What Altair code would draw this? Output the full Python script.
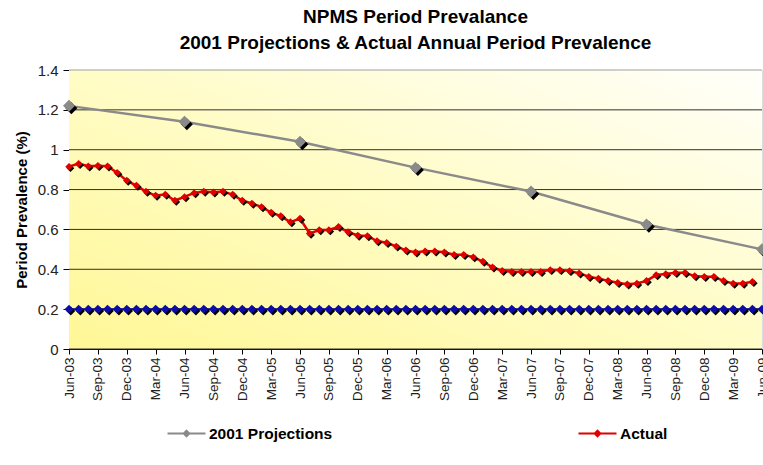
import altair as alt
import pandas as pd

# ---------------- data ----------------
tick_labels = ["Jun-03", "Sep-03", "Dec-03", "Mar-04", "Jun-04", "Sep-04", "Dec-04",
               "Mar-05", "Jun-05", "Sep-05", "Dec-05", "Mar-06", "Jun-06", "Sep-06",
               "Dec-06", "Mar-07", "Jun-07", "Sep-07", "Dec-07", "Mar-08", "Jun-08",
               "Sep-08", "Dec-08", "Mar-09", "Jun-09"]

y_ticks = [0, 0.2, 0.4, 0.6, 0.8, 1.0, 1.2, 1.4]

# month index counted from Jun-03
proj_month = [0, 12, 24, 36, 48, 60, 72]
proj_vals = [1.22, 1.14, 1.04, 0.91, 0.79, 0.625, 0.50]

actual_vals = [0.915, 0.93, 0.917, 0.92, 0.917, 0.885, 0.845, 0.82, 0.79, 0.77,
               0.775, 0.745, 0.763, 0.783, 0.79, 0.787, 0.79, 0.775, 0.745, 0.73,
               0.713, 0.685, 0.667, 0.637, 0.655, 0.58, 0.597, 0.597, 0.613, 0.587,
               0.57, 0.567, 0.542, 0.533, 0.515, 0.495, 0.485, 0.49, 0.49, 0.485,
               0.473, 0.473, 0.461, 0.439, 0.41, 0.393, 0.388, 0.388, 0.388, 0.388,
               0.397, 0.397, 0.392, 0.38, 0.363, 0.354, 0.342, 0.332, 0.325, 0.329,
               0.342, 0.371, 0.376, 0.383, 0.383, 0.366, 0.363, 0.363, 0.342, 0.329,
               0.329, 0.337]

target_vals = [0.2, 0.2, 0.2, 0.2, 0.2, 0.2, 0.2, 0.2, 0.2, 0.2, 0.2, 0.2, 0.2,
               0.2, 0.2, 0.2, 0.2, 0.2, 0.2, 0.2, 0.2, 0.2, 0.2, 0.2, 0.2, 0.2,
               0.2, 0.2, 0.2, 0.2, 0.2, 0.2, 0.2, 0.2, 0.2, 0.2, 0.2, 0.2, 0.2,
               0.2, 0.2, 0.2, 0.2, 0.2, 0.2, 0.2, 0.2, 0.2, 0.2, 0.2, 0.2, 0.2,
               0.2, 0.2, 0.2, 0.2, 0.2, 0.2, 0.2, 0.2, 0.2, 0.2, 0.2, 0.2, 0.2,
               0.2, 0.2, 0.2, 0.2, 0.2, 0.2, 0.2, 0.2]

series_names = ["2001 Projections", "Actual"]
series_colors = ["#8a8a8a", "#e00000"]
target_color = "#0c0ca8"

proj_df = pd.DataFrame({"month": proj_month, "value": proj_vals, "series": series_names[0]})
actual_df = pd.DataFrame({"month": list(range(len(actual_vals))), "value": actual_vals,
                          "series": series_names[1]})
target_df = pd.DataFrame({"month": list(range(len(target_vals))), "value": target_vals})
lines_df = pd.concat([proj_df, actual_df], ignore_index=True)
grid_df = pd.DataFrame({"value": y_ticks})

# ---------------- styling ----------------
FONT = "Liberation Sans, Arial, sans-serif"
W, H = 693, 279

label_expr = "[" + ",".join("'%s'" % t for t in tick_labels) + "][round(datum.value / 3)]"

x_enc = alt.X("month:Q",
              scale=alt.Scale(domain=[0, 72], nice=False, zero=False),
              axis=alt.Axis(values=list(range(0, 73, 3)), labelExpr=label_expr,
                            labelAngle=270, labelFontSize=13.5, labelFont=FONT,
                            labelColor="#222", labelPadding=3, labelOverlap=False,
                            labelFlush=False, labelBound=False,
                            grid=False, domainColor="black", tickColor="black",
                            tickSize=5, title=None))
y_enc = alt.Y("value:Q",
              scale=alt.Scale(domain=[0, 1.4], nice=False),
              axis=alt.Axis(values=y_ticks, format="~g",
                            labelFontSize=15, labelFont=FONT, labelColor="#222",
                            labelPadding=5, domainColor="black", tickColor="black",
                            tickSize=6, grid=False,
                            title="Period Prevalence (%)", titleFontSize=15,
                            titleFont=FONT, titleFontWeight="bold", titleColor="black",
                            titlePadding=8))

diamond = "M0,-1L1,0L0,1L-1,0Z"
shadow = "M0.4,-0.6L1.4,0.4L0.4,1.4L-0.6,0.4Z"


def points(df, color, size, path):
    return alt.Chart(df).mark_point(filled=True, shape=path, size=size, color=color,
                                    opacity=1, strokeWidth=0).encode(x=x_enc, y=y_enc)


background = alt.Chart(alt.Data(values=[{}])).mark_rect(
    color={"gradient": "linear", "x1": 0, "y1": 1, "x2": 1, "y2": 0,
           "stops": [{"offset": 0, "color": "#fff796"},
                     {"offset": 0.5, "color": "#fffcc6"},
                     {"offset": 1, "color": "#fffffa"}]}
).encode(x=alt.value(0), x2=alt.value(W), y=alt.value(0), y2=alt.value(H))

gridlines = alt.Chart(grid_df).mark_rule(strokeWidth=1).encode(
    y=y_enc,
    color=alt.condition("datum.value > 1.39", alt.value("#a0a0a0"), alt.value("#303030")))

lines = alt.Chart(lines_df).mark_line(strokeWidth=2.5).encode(
    x=x_enc, y=y_enc,
    color=alt.Color("series:N",
                    scale=alt.Scale(domain=series_names, range=series_colors),
                    legend=alt.Legend(orient="none", legendX=97, legendY=343,
                                      direction="horizontal", title=None,
                                      columnPadding=241,
                                      labelFont=FONT, labelFontSize=15.5,
                                      labelFontWeight="bold", labelColor="black",
                                      labelOffset=2,
                                      symbolType="M-1,0L1,0M-0.14,0L0,-0.14L0.14,0L0,0.14Z",
                                      symbolSize=1444, symbolStrokeWidth=2.2)),
    detail="series:N")

target_line = alt.Chart(target_df).mark_line(strokeWidth=2, color=target_color).encode(
    x=x_enc, y=y_enc)

chart = alt.layer(
    background,
    gridlines,
    target_line,
    lines,
    points(target_df, "black", 80, shadow),
    points(target_df, target_color, 80, diamond),
    points(actual_df, "black", 56, shadow),
    points(actual_df, series_colors[1], 56, diamond),
    points(proj_df, "black", 144, shadow),
    points(proj_df, series_colors[0], 144, diamond),
).properties(
    width=W, height=H,
    autosize=alt.AutoSizeParams(type="none"),
    padding={"left": 69, "top": 70, "right": 1, "bottom": 116},
    title=alt.TitleParams(
        text=["NPMS Period Prevalance",
              "2001 Projections & Actual Annual Period Prevalence"],
        font=FONT, fontSize=19, fontWeight="bold", color="black",
        anchor="middle", offset=10, lineHeight=26),
).configure_view(
    stroke=None,
).configure(background="white")

chart.save("out.html", embed_options={"renderer": "svg", "actions": False})
